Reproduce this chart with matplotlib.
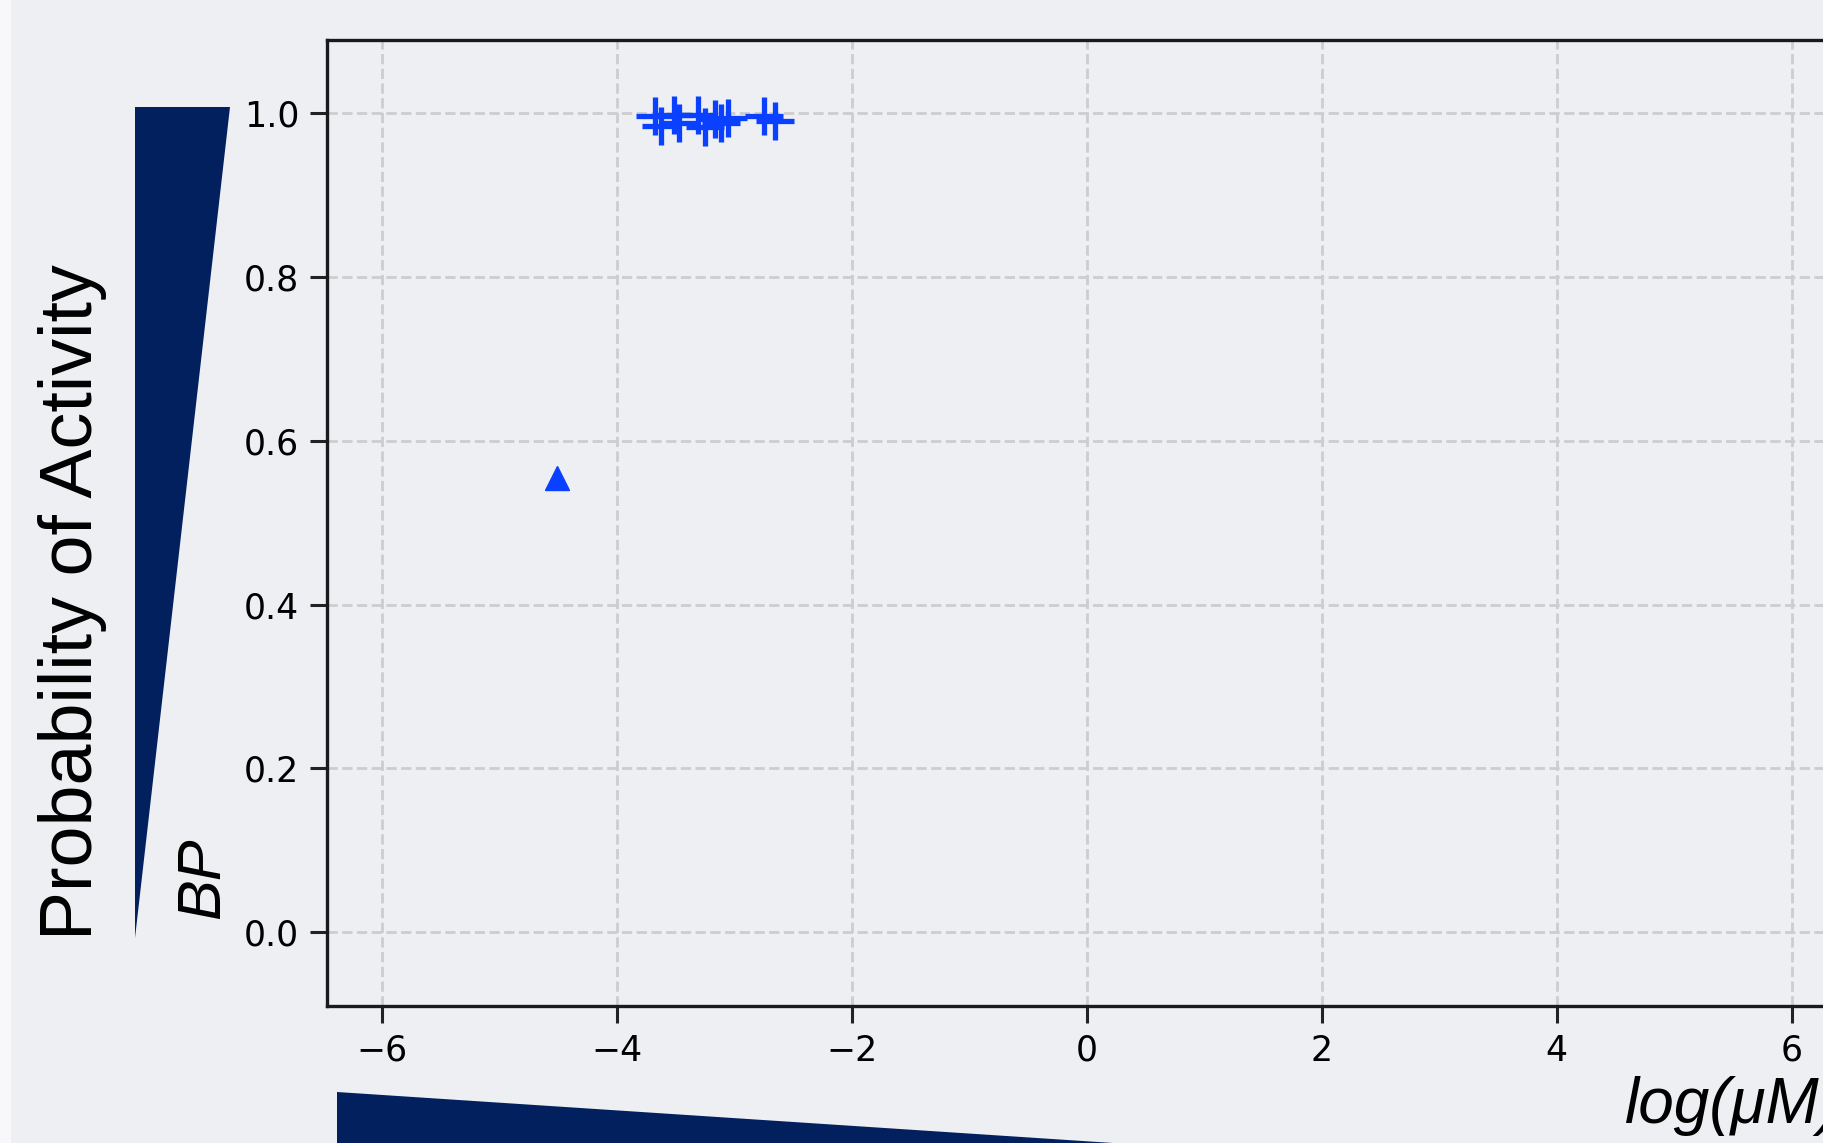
import matplotlib
matplotlib.use("Agg")
import matplotlib.pyplot as plt
from matplotlib.patches import Polygon, Rectangle

# data
active_x = [-3.68, -3.63, -3.52, -3.47, -3.31, -3.25, -3.17, -3.12, -3.06, -2.75, -2.66]
active_y = [0.996, 0.984, 0.997, 0.988, 0.997, 0.983, 0.993, 0.988, 0.994, 0.996, 0.990]
other_x = [-4.515]
other_y = [0.555]
x_ticks = [-6, -4, -2, 0, 2, 4, 6]
y_ticks = [0.0, 0.2, 0.4, 0.6, 0.8, 1.0]

W, H = 1824, 1143
bg = "#eeeff3"
navy = "#02205e"
blue = "#0a40ff"


def fig_xy(px, py):
    return px / W, 1 - py / H


fig = plt.figure(figsize=(W / 100, H / 100), dpi=100, facecolor=bg)

# thin lighter strip at the left edge
fig.patches.append(Rectangle((0, 0), 11 / W, 1, transform=fig.transFigure,
                             facecolor="#f8f8fa", edgecolor="none", zorder=0))

# decorative wedges
left_wedge = [fig_xy(135, 107), fig_xy(230, 107), fig_xy(135, 938)]
fig.patches.append(Polygon(left_wedge, closed=True, transform=fig.transFigure,
                           facecolor=navy, edgecolor="none", zorder=1))
bottom_wedge = [fig_xy(337, 1092), fig_xy(1113, 1143), fig_xy(337, 1143)]
fig.patches.append(Polygon(bottom_wedge, closed=True, transform=fig.transFigure,
                           facecolor=navy, edgecolor="none", zorder=1))

ax_left, ax_bottom = fig_xy(327, 1006)
ax_top = fig_xy(0, 40)[1]
ax = fig.add_axes([ax_left, ax_bottom, 1520 / W, ax_top - ax_bottom])
ax.set_facecolor(bg)

ax.grid(True, linestyle="--", color="#cdcdd0", linewidth=2)
ax.set_axisbelow(True)

ax.plot(active_x, active_y, linestyle="none", marker="+", markersize=27,
        markeredgewidth=3.8, color=blue)
ax.plot(other_x, other_y, linestyle="none", marker="^", markersize=17,
        color=blue)

ax.set_xlim(-6.47, 6.47)
ax.set_ylim(-0.09, 1.089)
ax.set_xticks(x_ticks)
ax.set_yticks(y_ticks)
ax.tick_params(labelsize=25, length=12, width=2.2, pad=8, color="#222222")
for sp in ax.spines.values():
    sp.set_linewidth(2.4)
    sp.set_color("#1a1a1a")

# labels placed like the original
x, y = fig_xy(92, 940)
fig.text(x, y, "Probability of Activity", rotation=90, rotation_mode="anchor",
         ha="left", va="baseline", fontsize=53, family="Liberation Sans")
x, y = fig_xy(219, 919)
fig.text(x, y, "BP", rotation=90, rotation_mode="anchor", ha="left",
         va="baseline", fontsize=44, style="italic", family="Liberation Sans")
# the original crops this label at the right edge
x, y = fig_xy(1625, 1123)
fig.text(x, y, "log(μM)", ha="left", va="baseline", fontsize=46,
         style="italic", family="Liberation Sans")

fig.savefig("out.png", dpi=100, facecolor=bg)
